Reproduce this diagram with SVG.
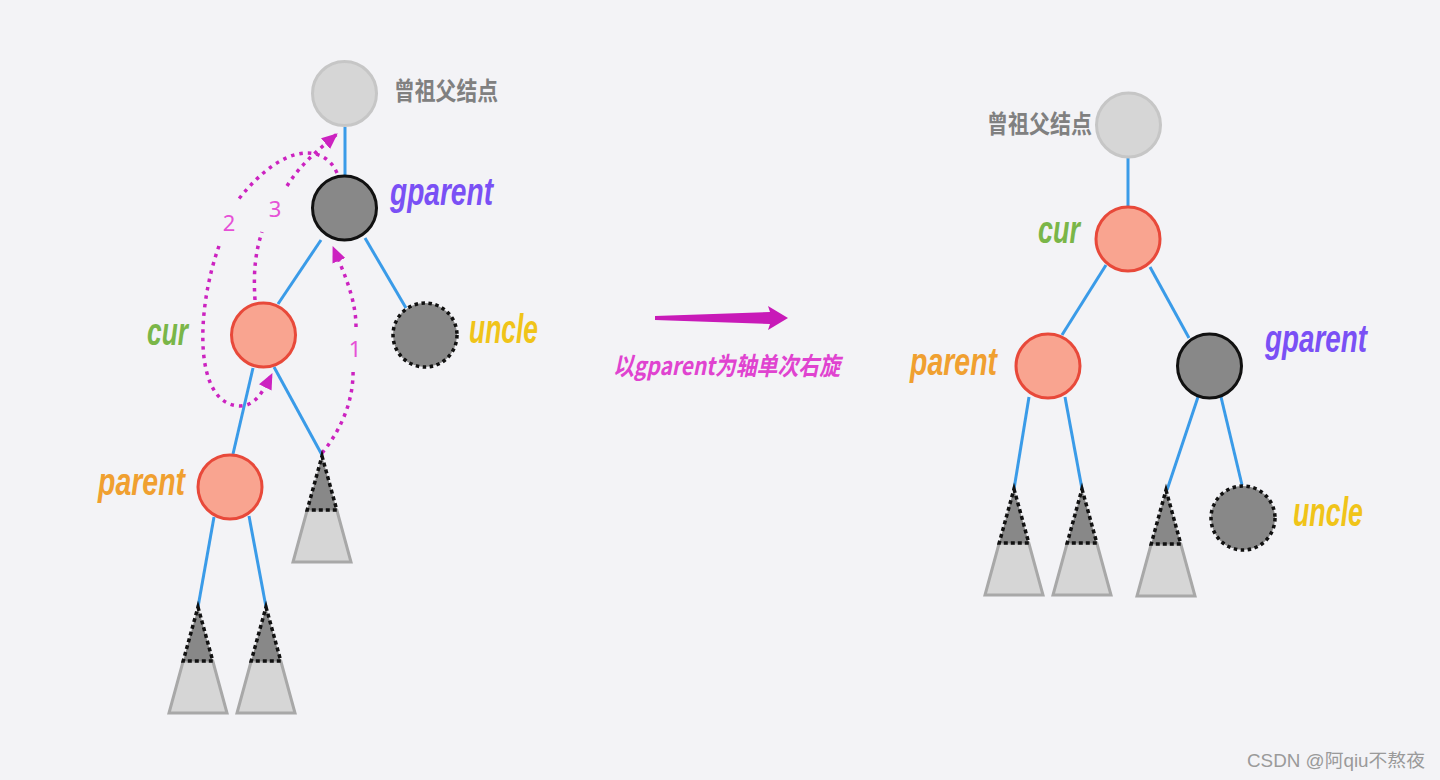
<svg xmlns="http://www.w3.org/2000/svg" xmlns:xlink="http://www.w3.org/1999/xlink" width="1440" height="780" viewBox="0 0 1440 780">
<style>
.edge{stroke:#3a9be8;stroke-width:3;fill:none}
.ggp{fill:#d6d6d6;stroke:#c6c6c6;stroke-width:3}
.red{fill:#f9a490;stroke:#e8493a;stroke-width:3}
.black{fill:#888888;stroke:#111111;stroke-width:3}
.uncle{fill:#888888;stroke:#111111;stroke-width:3.5;stroke-dasharray:3.5 3.5}
.lbl{font-family:"Liberation Sans",Arial,sans-serif;font-weight:bold;font-style:italic}
.cn{font-family:"Noto Sans CJK SC",sans-serif;font-weight:bold;fill:#808080;font-size:25px}
.rot{stroke:#cc22c0;stroke-width:3.5;fill:none;stroke-dasharray:3.5 5}
.num{font-family:"Noto Sans","DejaVu Sans",sans-serif;font-size:22px;fill:#e650d6}
</style>
<defs>
<marker id="mh" markerUnits="userSpaceOnUse" markerWidth="16" markerHeight="14" viewBox="0 0 16 14" refX="15" refY="7" orient="auto">
<path d="M0,0 L16,7 L0,14 z" fill="#cc22c0"/>
</marker>
<g id="subtree">
<polygon points="-14.8,54 14.8,54 29,106 -29,106" fill="#d6d6d6" stroke="#a8a8a8" stroke-width="3"/>
<polygon points="0,0 14.8,54 -14.8,54" fill="#888888" stroke="#111" stroke-width="3.5" stroke-dasharray="4 3"/>
</g>
</defs>
<rect width="1440" height="780" fill="#f3f3f6"/>

<g id="connectors">
<line class="edge" x1="345" y1="127" x2="345" y2="175"/>
<line class="edge" x1="321" y1="240" x2="278" y2="304"/>
<line class="edge" x1="365" y1="238" x2="406" y2="308"/>
<line class="edge" x1="253" y1="368" x2="233" y2="454"/>
<line class="edge" x1="274" y1="367" x2="322" y2="455"/>
<line class="edge" x1="214" y1="517" x2="198" y2="607"/>
<line class="edge" x1="249" y1="516" x2="266" y2="607"/>

<line class="edge" x1="1128" y1="158" x2="1128" y2="206"/>
<line class="edge" x1="1106" y1="265" x2="1062" y2="335"/>
<line class="edge" x1="1150" y1="267" x2="1189" y2="338"/>
<line class="edge" x1="1029" y1="397" x2="1014" y2="489"/>
<line class="edge" x1="1065" y1="397" x2="1082" y2="489"/>
<line class="edge" x1="1198" y1="397" x2="1167" y2="490"/>
<line class="edge" x1="1221" y1="397" x2="1242" y2="485"/>

<path class="rot" d="M322,453 C345,425 354,395 353,368"/>
<path class="rot" d="M356,327 C356,300 345,275 333,247" marker-end="url(#mh)"/>
<path class="rot" d="M337,173 C325,145 285,140 238,200"/>
<path class="rot" d="M219,246 C196,310 193,405 240,406 C255,406 263,392 272,374" marker-end="url(#mh)"/>
<path class="rot" d="M255,300 C253,270 256,250 262,232"/>
<path class="rot" d="M287,186 C300,165 318,150 337,134" marker-end="url(#mh)"/>
<text class="num" x="355" y="357" text-anchor="middle">1</text>
<text class="num" x="229" y="231" text-anchor="middle">2</text>
<text class="num" x="275" y="217" text-anchor="middle">3</text>

<polygon points="655,316 770,312 768,306 788,318 768,330 770,324 655,320" fill="#c81ab8"/>
</g>

<g id="left-ggp">
<circle class="ggp" cx="344.5" cy="93.5" r="32"/>
<text class="cn" x="394" y="100" textLength="104" lengthAdjust="spacingAndGlyphs">曾祖父结点</text>
</g>
<g id="left-gparent">
<circle class="black" cx="344.5" cy="208" r="32"/>
<text class="lbl" x="390" y="205" font-size="38" fill="#7a50f5" textLength="103" lengthAdjust="spacingAndGlyphs">gparent</text>
</g>
<g id="left-cur">
<circle class="red" cx="263.5" cy="335" r="32"/>
<text class="lbl" x="147" y="345" font-size="38" fill="#7ab648" textLength="41" lengthAdjust="spacingAndGlyphs">cur</text>
</g>
<g id="left-uncle">
<circle class="uncle" cx="425" cy="335" r="32"/>
<text class="lbl" x="469" y="343" font-size="40" fill="#f0c419" textLength="69" lengthAdjust="spacingAndGlyphs">uncle</text>
</g>
<g id="left-parent">
<circle class="red" cx="230" cy="487" r="32"/>
<text class="lbl" x="98" y="495" font-size="38" fill="#f0a030" textLength="87" lengthAdjust="spacingAndGlyphs">parent</text>
</g>
<g id="left-sub-cur-right"><use xlink:href="#subtree" transform="translate(322,456)"/></g>
<g id="left-sub-parent-left"><use xlink:href="#subtree" transform="translate(198,607)"/></g>
<g id="left-sub-parent-right"><use xlink:href="#subtree" transform="translate(266,607)"/></g>

<g id="rotate-label">
<text x="613" y="375" font-family="Noto Sans CJK SC,sans-serif" font-style="italic" font-weight="bold" font-size="25" fill="#e043d0" textLength="227" lengthAdjust="spacingAndGlyphs">以gparent为轴单次右旋</text>
</g>

<g id="right-ggp">
<circle class="ggp" cx="1128.5" cy="125" r="32"/>
<text class="cn" x="987" y="133" textLength="105" lengthAdjust="spacingAndGlyphs">曾祖父结点</text>
</g>
<g id="right-cur">
<circle class="red" cx="1128" cy="239" r="32"/>
<text class="lbl" x="1038" y="243" font-size="38" fill="#7ab648" textLength="42" lengthAdjust="spacingAndGlyphs">cur</text>
</g>
<g id="right-parent">
<circle class="red" cx="1048" cy="366" r="32"/>
<text class="lbl" x="910" y="375" font-size="38" fill="#f0a030" textLength="87" lengthAdjust="spacingAndGlyphs">parent</text>
</g>
<g id="right-gparent">
<circle class="black" cx="1209.5" cy="366" r="32"/>
<text class="lbl" x="1265" y="352" font-size="38" fill="#7a50f5" textLength="102" lengthAdjust="spacingAndGlyphs">gparent</text>
</g>
<g id="right-uncle">
<circle class="uncle" cx="1243" cy="518" r="32"/>
<text class="lbl" x="1293" y="526" font-size="40" fill="#f0c419" textLength="70" lengthAdjust="spacingAndGlyphs">uncle</text>
</g>
<g id="right-sub-parent-left"><use xlink:href="#subtree" transform="translate(1014,489)"/></g>
<g id="right-sub-parent-right"><use xlink:href="#subtree" transform="translate(1082,489)"/></g>
<g id="right-sub-gparent-left"><use xlink:href="#subtree" transform="translate(1166,490)"/></g>

<text x="1247" y="767" font-family="Liberation Sans,Noto Sans CJK SC,sans-serif" font-size="18" fill="#9a9a9a" textLength="178" lengthAdjust="spacingAndGlyphs">CSDN @阿qiu不熬夜</text>
</svg>
